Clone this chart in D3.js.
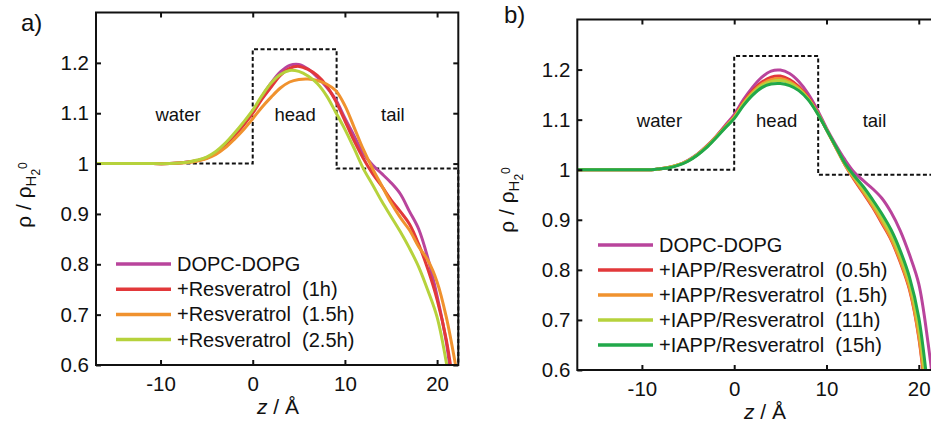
<!DOCTYPE html>
<html><head><meta charset="utf-8">
<script src="https://cdn.jsdelivr.net/npm/d3@7"></script>
<style>
html,body{margin:0;padding:0;background:#fff;}
svg{display:block;font-family:"Liberation Sans",Arial,Helvetica,sans-serif;}
</style></head>
<body><svg id="c" width="931" height="424"></svg>
<script>
// ---- data ----
const zGrid = [-17,-12,-9,-8,-7,-6,-5,-4,-3,-2,-1,0,1,2,3,4,5,6,7,8,9,10,11,12,13,14,15,16,17,18,19,20,21,22];

const aDOPC   = [1.0,1.0,1.0,1.001,1.003,1.006,1.012,1.022,1.038,1.057,1.079,1.103,1.133,1.160,1.182,1.195,1.197,1.188,1.172,1.152,1.127,1.090,1.055,1.020,0.997,0.980,0.962,0.940,0.905,0.870,0.812,0.737,0.645,0.50];
const aRes1   = [1.0,1.0,1.0,1.001,1.003,1.006,1.011,1.021,1.036,1.055,1.076,1.100,1.128,1.152,1.175,1.189,1.193,1.187,1.175,1.155,1.124,1.085,1.045,1.010,0.980,0.955,0.928,0.905,0.880,0.840,0.790,0.730,0.650,0.53];
const aRes15  = [1.0,1.0,1.0,1.001,1.002,1.005,1.010,1.018,1.031,1.048,1.067,1.089,1.112,1.132,1.150,1.162,1.167,1.168,1.165,1.158,1.145,1.115,1.072,1.028,0.990,0.956,0.922,0.893,0.868,0.835,0.808,0.765,0.695,0.60];
const aRes25  = [1.0,1.0,1.0,1.001,1.003,1.007,1.013,1.024,1.040,1.060,1.082,1.106,1.135,1.160,1.177,1.185,1.183,1.174,1.159,1.135,1.102,1.068,1.030,0.990,0.958,0.925,0.895,0.865,0.832,0.795,0.748,0.695,0.605,0.48];

const bDOPC   = [1.0,1.0,1.0,1.002,1.005,1.010,1.019,1.031,1.047,1.066,1.088,1.110,1.140,1.165,1.185,1.197,1.199,1.192,1.176,1.152,1.120,1.083,1.050,1.020,0.995,0.978,0.962,0.943,0.915,0.878,0.830,0.772,0.655,0.50];
const bIR05   = [1.0,1.0,1.0,1.002,1.005,1.010,1.018,1.030,1.046,1.065,1.086,1.106,1.135,1.158,1.175,1.185,1.187,1.180,1.166,1.145,1.115,1.080,1.045,1.010,0.980,0.953,0.925,0.893,0.860,0.815,0.760,0.665,0.50,0.30];
const bIR15   = [1.0,1.0,1.0,1.002,1.005,1.010,1.018,1.030,1.046,1.065,1.085,1.105,1.133,1.155,1.171,1.180,1.182,1.176,1.163,1.143,1.114,1.080,1.045,1.010,0.982,0.955,0.927,0.896,0.862,0.818,0.763,0.668,0.51,0.32];
const bIR11   = [1.0,1.0,1.0,1.002,1.005,1.010,1.018,1.030,1.045,1.064,1.084,1.104,1.131,1.152,1.168,1.176,1.178,1.173,1.161,1.142,1.114,1.080,1.046,1.012,0.985,0.960,0.933,0.903,0.870,0.827,0.773,0.685,0.53,0.34];
const bIR15h  = [1.0,1.0,1.0,1.002,1.004,1.009,1.017,1.029,1.044,1.063,1.083,1.102,1.128,1.149,1.164,1.171,1.172,1.168,1.158,1.140,1.113,1.080,1.047,1.013,0.988,0.966,0.940,0.912,0.880,0.838,0.785,0.705,0.56,0.38];

// dashed slab model: z breakpoints and levels
const modelZ = [-7.2, 0, 0, 9.1, 9.1, 22.3, 22.3];
const modelV = [1.0, 1.0, 1.227, 1.227, 0.99, 0.99, 0.6];

const xTicks = [-10, 0, 10, 20];
const xTickLabels = ["-10", "0", "10", "20"];
const yTicks = [0.6, 0.7, 0.8, 0.9, 1.0, 1.1, 1.2];
const yTickLabels = ["0.6", "0.7", "0.8", "0.9", "1", "1.1", "1.2"];

const namesA = ["DOPC-DOPG", "+Resveratrol  (1h)", "+Resveratrol  (1.5h)", "+Resveratrol  (2.5h)"];
const namesB = ["DOPC-DOPG", "+IAPP/Resveratrol  (0.5h)", "+IAPP/Resveratrol  (1.5h)", "+IAPP/Resveratrol  (11h)", "+IAPP/Resveratrol  (15h)"];
const colorsA = ["#b9449c", "#e2383a", "#f0922e", "#b6d23c"];
const colorsB = ["#b9449c", "#e2383a", "#f0922e", "#b6d23c", "#21a84a"];
const regionNames = ["water", "head", "tail"];
const regionZ = [-8.1, 4.6, 15.2];

const xDomain = [-17, 22.3];
const yDomain = [0.6, 1.3];

// ---- drawing ----
const svg = d3.select("#c");

const panels = [
  {id:"a", label:"a)", labelPos:[21,31], x0:96, x1:458.3, yB:365, yT:12.5,
   series:[aDOPC,aRes1,aRes15,aRes25], names:namesA, colors:colorsA,
   legX:116, legY:264, legDy:25.2, regionY:121, zlab:[278,414], ylab:[31,195]},
  {id:"b", label:"b)", labelPos:[504,23], x0:577.3, x1:940, yB:370, yT:19.5,
   series:[bDOPC,bIR05,bIR15,bIR11,bIR15h], names:namesB, colors:colorsB,
   legX:598, legY:245, legDy:25, regionY:127, zlab:[765,419], ylab:[514,200]}
];

panels.forEach(p => {
  const x = d3.scaleLinear().domain(xDomain).range([p.x0, p.x1]);
  const y = d3.scaleLinear().domain(yDomain).range([p.yB, p.yT]);
  const g = svg.append("g");

  const clipId = "clip-" + p.id;
  svg.append("clipPath").attr("id", clipId)
    .append("rect").attr("x", p.x0).attr("y", p.yT).attr("width", p.x1 - p.x0).attr("height", p.yB - p.yT);

  // dashed model
  g.append("path")
    .datum(modelZ.map((z,i)=>[z, modelV[i]]))
    .attr("d", d3.line().x(d=>x(d[0])).y(d=>y(d[1])))
    .attr("fill","none").attr("stroke","#111").attr("stroke-width",2)
    .attr("stroke-dasharray","4,2.5");

  // region labels
  regionNames.forEach((t,i)=>{
    g.append("text").attr("x", x(regionZ[i])).attr("y", p.regionY)
      .attr("text-anchor","middle").attr("font-size",18.5).attr("fill","#111").text(t);
  });

  // curves
  const line = d3.line().x((d,i)=>x(zGrid[i])).y(d=>y(d)).curve(d3.curveCatmullRom.alpha(0.5));
  const cg = g.append("g").attr("clip-path", `url(#${clipId})`);
  p.series.forEach((s,k)=>{
    cg.append("path").datum(s).attr("d", line)
      .attr("fill","none").attr("stroke", p.colors[k]).attr("stroke-width",3)
      .attr("stroke-linejoin","round");
  });

  // axes (inward ticks)
  const ax = (axis, tr) => {
    const a = g.append("g").attr("transform", tr).call(axis);
    a.select(".domain").remove();
    a.selectAll("line").attr("stroke","#111").attr("stroke-width",2);
    a.selectAll("text").attr("font-size",20.5).attr("fill","#111")
      .attr("font-family",'"Liberation Sans",Arial,sans-serif');
    return a;
  };
  ax(d3.axisBottom(x).tickValues(xTicks).tickFormat((d,i)=>xTickLabels[i]).tickSizeInner(-5).tickSizeOuter(0).tickPadding(11), `translate(0,${p.yB})`);
  ax(d3.axisTop(x).tickValues(xTicks).tickFormat("").tickSizeInner(-5).tickSizeOuter(0), `translate(0,${p.yT})`);
  ax(d3.axisLeft(y).tickValues(yTicks).tickFormat((d,i)=>yTickLabels[i]).tickSizeInner(-5).tickSizeOuter(0).tickPadding(7), `translate(${p.x0},0)`);
  ax(d3.axisRight(y).tickValues(yTicks).tickFormat("").tickSizeInner(-5).tickSizeOuter(0), `translate(${p.x1},0)`);

  // frame
  g.append("rect").attr("x", p.x0).attr("y", p.yT).attr("width", p.x1 - p.x0).attr("height", p.yB - p.yT)
    .attr("fill","none").attr("stroke","#111").attr("stroke-width",2);

  // legend
  p.names.forEach((n,k)=>{
    const ly = p.legY + k * p.legDy;
    g.append("line").attr("x1", p.legX).attr("x2", p.legX + 55).attr("y1", ly).attr("y2", ly)
      .attr("stroke", p.colors[k]).attr("stroke-width",3.5);
    g.append("text").attr("x", p.legX + 61).attr("y", ly + 7).attr("font-size",20)
      .attr("fill","#111").style("white-space","pre").text(n);
  });

  // panel label
  g.append("text").attr("x", p.labelPos[0]).attr("y", p.labelPos[1]).attr("font-size",24).attr("fill","#111").text(p.label);

  // x axis label
  const xl = g.append("text").attr("x", p.zlab[0]).attr("y", p.zlab[1]).attr("text-anchor","middle")
    .attr("font-size",21).attr("fill","#111").style("white-space","pre");
  xl.append("tspan").attr("font-style","italic").text("z");
  xl.append("tspan").text(" / Å");

  // y axis label
  const yl = g.append("text").attr("transform", `translate(${p.ylab[0]},${p.ylab[1]}) rotate(-90)`)
    .attr("text-anchor","middle").attr("font-size",21).attr("fill","#111").style("white-space","pre");
  yl.append("tspan").text("ρ / ρ");
  yl.append("tspan").attr("font-size",15).attr("dy",5).text("H");
  yl.append("tspan").attr("font-size",12).attr("dy",4).text("2");
  yl.append("tspan").attr("font-size",12).attr("dy",-13).text("0");
});
</script>
</body></html>
